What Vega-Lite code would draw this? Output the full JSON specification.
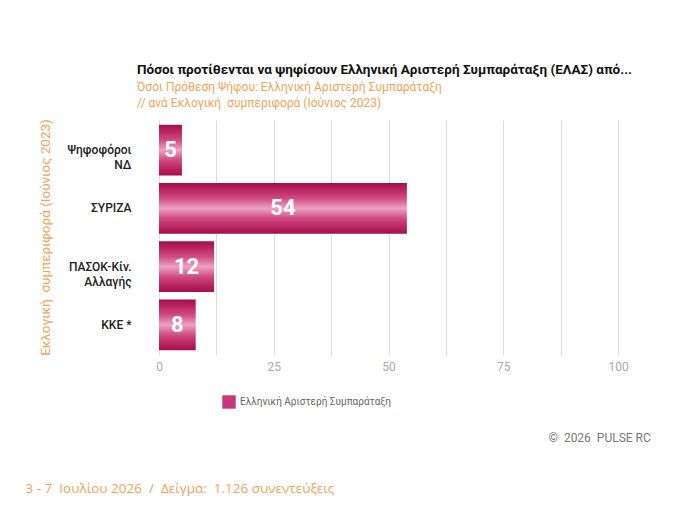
{
  "$schema": "https://vega.github.io/schema/vega-lite/v6.json",
  "description": "ΕΛΑΣ vote intention by June 2023 vote",
  "autosize": {"type": "none"},
  "width": 459,
  "height": 235,
  "padding": {"left": 159, "top": 120, "right": 62, "bottom": 155},
  "background": "white",
  "title": {
    "text": "Πόσοι προτίθενται να ψηφίσουν Ελληνική Αριστερή Συμπαράταξη (ΕΛΑΣ) από...",
    "subtitle": ["Όσοι Πρόθεση Ψήφου: Ελληνική Αριστερή Συμπαράταξη", "\u00a0// ανά Εκλογική\u00a0 συμπεριφορά (Ιούνιος 2023)"],
    "anchor": "start",
    "frame": "group",
    "dx": -22,
    "offset": 10,
    "font": "Roboto",
    "fontSize": 13.5,
    "fontWeight": "bold",
    "color": "#111111",
    "subtitleFont": "Roboto",
    "subtitleFontSize": 12,
    "subtitleColor": "#f2a45c",
    "subtitlePadding": 5,
    "subtitleLineHeight": 16
  },
  "config": {
    "view": {"stroke": null},
    "font": "Roboto"
  },
  "data": {
    "values": [
      {"group": "Ψηφοφόροι|ΝΔ", "value": 5, "series": "Ελληνική Αριστερή Συμπαράταξη"},
      {"group": "ΣΥΡΙΖΑ", "value": 54, "series": "Ελληνική Αριστερή Συμπαράταξη"},
      {"group": "ΠΑΣΟΚ-Κίν.|Αλλαγής", "value": 12, "series": "Ελληνική Αριστερή Συμπαράταξη"},
      {"group": "ΚΚΕ *", "value": 8, "series": "Ελληνική Αριστερή Συμπαράταξη"}
    ]
  },
  "encoding": {
    "y": {
      "field": "group",
      "type": "nominal",
      "sort": null,
      "scale": {"paddingInner": 0.13, "paddingOuter": 0.08},
      "axis": {
        "title": "Εκλογική\u00a0 συμπεριφορά (Ιούνιος 2023)",
        "titleColor": "#f2a45c",
        "titleFont": "Roboto",
        "titleFontSize": 13.5,
        "titleFontWeight": "normal",
        "titleX": -114,
        "titleY": 117,
        "titleAngle": 270,
        "titleAlign": "center",
        "titleBaseline": "middle",
        "labelExpr": "split(datum.value, '|')",
        "labelFont": "Roboto",
        "labelFontSize": 12,
        "labelFontWeight": 500,
        "labelColor": "#222222",
        "labelLineHeight": 15,
        "labelPadding": 28,
        "ticks": false,
        "domain": false
      }
    }
  },
  "layer": [
    {
      "mark": {
        "type": "bar",
        "fill": {
          "gradient": "linear",
          "x1": 0, "y1": 0, "x2": 0, "y2": 1,
          "stops": [
            {"offset": 0, "color": "#a30f4b"},
            {"offset": 0.12, "color": "#b8225e"},
            {"offset": 0.3, "color": "#cf4a83"},
            {"offset": 0.5, "color": "#eca2c2"},
            {"offset": 0.7, "color": "#cf4a83"},
            {"offset": 0.88, "color": "#b8225e"},
            {"offset": 1, "color": "#a30f4b"}
          ]
        }
      },
      "encoding": {
        "x": {
          "field": "value",
          "type": "quantitative",
          "scale": {"domain": [0, 100], "nice": false},
          "axis": {
            "values": [0, 12.5, 25, 37.5, 50, 62.5, 75, 87.5, 100],
            "labelExpr": "datum.value % 25 == 0 ? datum.label : ''",
            "labelFlush": false,
            "labelColor": "#aaaaaa",
            "labelFontSize": 12,
            "labelPadding": 6,
            "gridColor": "#dddddd",
            "ticks": false,
            "domain": false,
            "title": "3 - 7\u00a0 Ιουλίου 2026\u00a0 /\u00a0 Δείγμα:\u00a0 1.126 συνεντεύξεις",
            "titleColor": "#f2a45c",
            "titleFont": "Open Sans",
            "titleFontSize": 13.5,
            "titleFontWeight": "normal",
            "titleX": -134,
            "titleY": 133,
            "titleAlign": "left",
            "titleBaseline": "middle",
            "titleAnchor": null
          }
        },
        "color": {
          "field": "series",
          "type": "nominal",
          "scale": {"range": ["#c9377a"]},
          "legend": {
            "title": null,
            "orient": "none",
            "legendX": 63,
            "legendY": 275,
            "symbolType": "square",
            "symbolSize": 180,
            "symbolStrokeWidth": 0,
            "labelColor": "#666666",
            "labelFontSize": 10,
            "labelFont": "Roboto",
            "encode": {
              "symbols": {
                "update": {
                  "fill": {
                    "value": {
                      "gradient": "linear",
                      "x1": 0, "y1": 0, "x2": 0, "y2": 1,
                      "stops": [
                        {"offset": 0, "color": "#b8225e"},
                        {"offset": 0.5, "color": "#eca2c2"},
                        {"offset": 1, "color": "#b8225e"}
                      ]
                    }
                  }
                }
              }
            }
          }
        }
      }
    },
    {
      "transform": [{"calculate": "datum.value / 2", "as": "labelPos"}],
      "mark": {
        "type": "text",
        "color": "white",
        "font": "Roboto",
        "fontSize": 22,
        "fontWeight": "bold"
      },
      "encoding": {
        "x": {
          "field": "labelPos",
          "type": "quantitative",
          "axis": {
            "orient": "top",
            "labels": false,
            "ticks": false,
            "domain": false,
            "grid": false,
            "title": "©\u00a0 2026\u00a0 PULSE RC",
            "titleColor": "#777777",
            "titleFont": "Roboto",
            "titleFontSize": 12,
            "titleFontWeight": "normal",
            "titleX": 389,
            "titleY": 317,
            "titleAlign": "left",
            "titleBaseline": "middle",
            "titleAnchor": null
          }
        },
        "text": {"field": "value", "type": "quantitative"}
      }
    }
  ],
  "resolve": {"axis": {"x": "independent"}}
}
